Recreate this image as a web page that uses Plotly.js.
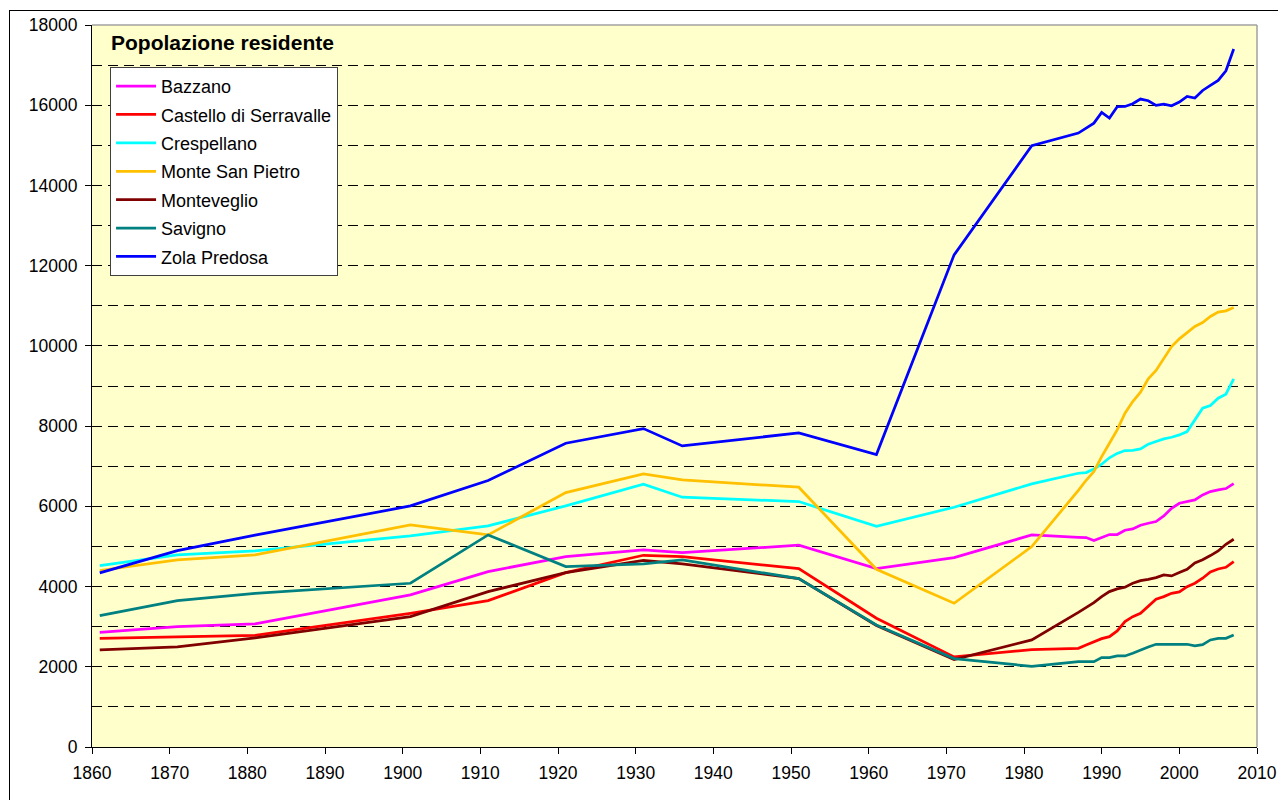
<!DOCTYPE html>
<html>
<head>
<meta charset="utf-8">
<script src="https://cdn.plot.ly/plotly-3.0.1.min.js"></script>
<style>
html,body{margin:0;padding:0;background:#fff;}
#wrap{position:relative;width:1278px;height:800px;overflow:hidden;}
#chart{position:absolute;left:0;top:0;width:1278px;height:800px;}
#frame{position:absolute;left:9px;top:10px;width:1300px;height:820px;border-left:1px solid #000;border-top:1px solid #000;pointer-events:none;}
</style>
</head>
<body>
<div id="wrap"><div id="chart"></div><div id="frame"></div></div>
<script>
const years = [1861,1871,1881,1901,1911,1921,1931,1936,1951,1961,1971,1981,
  1987,1988,1989,1990,1991,1992,1993,1994,1995,1996,1997,1998,1999,2000,2001,2002,2003,2004,2005,2006,2007];

const bazzano = [2860,3001,3068,3791,4373,4747,4913,4847,5030,4450,4722,5287,
  5229,5221,5146,5229,5296,5296,5404,5437,5529,5578,5620,5761,5952,6077,6110,6160,6285,6368,6410,6443,6568];
const castello = [2710,2752,2785,3333,3649,4348,4780,4747,4448,3209,2245,2430,
  2461,2544,2627,2702,2752,2893,3126,3250,3333,3500,3683,3749,3832,3866,3998,4082,4207,4365,4439,4481,4622];
const crespellano = [4522,4788,4888,5262,5512,6011,6551,6227,6119,5500,5978,6559,
  6825,6842,6930,7050,7210,7320,7390,7395,7430,7549,7615,7682,7723,7781,7864,8155,8446,8513,8696,8795,9178];
const monteSanPietro = [4400,4664,4789,5537,5287,6343,6809,6659,6477,4431,3583,4996,
  6400,6650,6867,7241,7573,7906,8322,8613,8845,9178,9386,9669,9984,10176,10334,10484,10583,10733,10841,10874,10957];
const monteveglio = [2419,2494,2718,3250,3874,4348,4655,4564,4198,3030,2180,2669,
  3358,3475,3600,3749,3874,3941,3982,4082,4148,4181,4223,4290,4265,4348,4431,4590,4670,4772,4888,5054,5179];
const savigno = [3275,3649,3832,4082,5287,4498,4564,4664,4198,3043,2205,2010,
  2128,2128,2128,2228,2228,2270,2270,2336,2419,2494,2561,2561,2561,2561,2561,2519,2553,2669,2710,2710,2793];
const zolaPredosa = [4340,4896,5280,6010,6642,7574,7938,7507,7831,7290,12270,14989,
  15305,15421,15554,15820,15680,15962,15970,16037,16154,16112,15995,16029,15987,16079,16220,16178,16368,16493,16617,16859,17400];

const seriesNames = ["Bazzano","Castello di Serravalle","Crespellano","Monte San Pietro","Monteveglio","Savigno","Zola Predosa"];
const seriesValues = [bazzano, castello, crespellano, monteSanPietro, monteveglio, savigno, zolaPredosa];
const seriesColors = ["#FF00FF","#FF0000","#00FFFF","#FFC000","#800000","#008080","#0000FF"];

const xTicks = [1860,1870,1880,1890,1900,1910,1920,1930,1940,1950,1960,1970,1980,1990,2000,2010];
const yTicks = [0,2000,4000,6000,8000,10000,12000,14000,16000,18000];
const chartTitle = "Popolazione residente";

const FONT = '"Liberation Sans", Arial, sans-serif';

const traces = seriesNames.map((n, i) => ({
  type: 'scatter', mode: 'lines', name: n,
  x: years, y: seriesValues[i],
  legendgroup: 'g' + i,
  line: {color: seriesColors[i], width: 2.75},
  hoverinfo: 'skip'
}));

const layout = {
  width: 1278, height: 800,
  margin: {l: 92, r: 21, t: 25, b: 53},
  paper_bgcolor: '#FFFFFF',
  plot_bgcolor: '#FFFFCC',
  font: {family: FONT, size: 17, color: '#000'},
  showlegend: true,
  legend: {
    x: 0.0155, y: 0.942, xanchor: 'left', yanchor: 'top',
    bgcolor: '#FFFFFF', bordercolor: '#404040', borderwidth: 1,
    font: {family: FONT, size: 18, color: '#000'},
    traceorder: 'grouped', tracegroupgap: 2, itemwidth: 40
  },
  xaxis: {
    range: [1860, 2010], tickvals: xTicks, ticktext: xTicks.map(String),
    showgrid: false, zeroline: false,
    showline: true, linecolor: '#000', linewidth: 1,
    ticks: 'outside', ticklen: 6, tickcolor: '#000', tickwidth: 1,
    ticklabelstandoff: 4,
    tickfont: {family: FONT, size: 17.5, color: '#000'}
  },
  yaxis: {
    range: [0, 18000], tickvals: yTicks, ticktext: yTicks.map(String),
    showgrid: true, gridcolor: '#000', gridwidth: 1, griddash: '10px,6px',
    minor: {dtick: 1000, showgrid: true, gridcolor: '#000', gridwidth: 1, griddash: '10px,6px', ticks: ''},
    zeroline: false,
    showline: true, linecolor: '#000', linewidth: 1,
    ticks: 'outside', ticklen: 6, tickcolor: '#000', tickwidth: 1,
    ticklabelstandoff: 4,
    tickfont: {family: FONT, size: 17.5, color: '#000'}
  },
  shapes: [
    {type: 'line', xref: 'paper', yref: 'paper', x0: 0, x1: 1, y0: 1, y1: 1, line: {color: '#A0A0A0', width: 1.5}, layer: 'above'},
    {type: 'line', xref: 'paper', yref: 'paper', x0: 1, x1: 1, y0: 0, y1: 1, line: {color: '#A0A0A0', width: 1.5}, layer: 'above'}
  ],
  annotations: [{
    text: '<b>' + chartTitle + '</b>', xref: 'paper', yref: 'paper',
    x: 0.0146, y: 0.976, xanchor: 'left', yanchor: 'middle', showarrow: false,
    font: {family: FONT, size: 21, color: '#000'}
  }]
};

Plotly.newPlot('chart', traces, layout, {staticPlot: true, displayModeBar: false});
</script>
</body>
</html>
